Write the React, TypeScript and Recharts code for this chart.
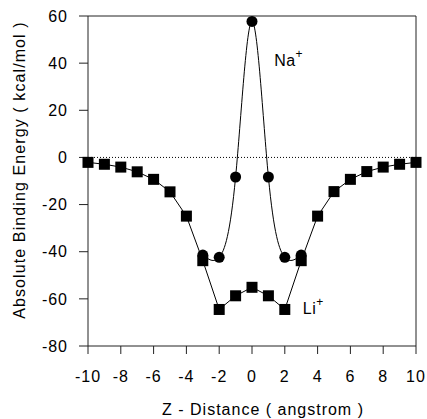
import { LineChart, Line, XAxis, YAxis, ReferenceLine, ReferenceDot, Label } from "recharts"

// Li+ : squares, every angstrom
const liZ = [-10, -9, -8, -7, -6, -5, -4, -3, -2, -1, 0, 1, 2, 3, 4, 5, 6, 7, 8, 9, 10]
const liEnergy = [-2.1, -2.9, -4.1, -6.1, -9.3, -14.6, -24.9, -43.8, -64.5, -58.7, -55.1, -58.7, -64.5, -43.8, -24.9, -14.5, -9.3, -6.0, -4.1, -2.9, -2.1]

// Na+ : circles, near the ring
const naZ = [-3, -2, -1, 0, 1, 2, 3]
const naEnergy = [-41.4, -42.4, -8.3, 57.7, -8.3, -42.4, -41.4]

const xTicks = [-10, -8, -6, -4, -2, 0, 2, 4, 6, 8, 10]
const yTicks = [-80, -60, -40, -20, 0, 20, 40, 60]

const liData = liZ.map((z, i) => ({ z, e: liEnergy[i] }))
const naData = naZ.map((z, i) => ({ z, e: naEnergy[i] }))

const FONT = "'Liberation Sans', Arial, sans-serif"
const tickStyle = { fontSize: 16, fill: "#000", fontFamily: FONT, letterSpacing: 1 }

const Square = (p: any) => {
  if (p.cx == null || p.cy == null) return null
  return <rect key={`sq-${p.index}`} x={p.cx - 5.5} y={p.cy - 5.5} width={11} height={11} fill="#000" />
}

const Ion = (name: string) => (p: any) => (
  <text x={p.cx} y={p.cy} fontSize={16} fontFamily={FONT} fill="#000" letterSpacing={0.5}>
    {name}
    <tspan dy={-8} fontSize={12}>+</tspan>
  </text>
)

export default function App() {
  return (
    <div style={{ position: "absolute", left: 0, top: 0, background: "#fff" }}>
      <LineChart width={427} height={419} margin={{ top: 16, right: 11, bottom: 23, left: 28 }}>
        <XAxis
          dataKey="z"
          type="number"
          domain={[-10, 10]}
          ticks={xTicks}
          allowDuplicatedCategory={false}
          tick={tickStyle}
          tickSize={8}
          tickMargin={17}
          height={50}
          stroke="#222"
        >
          <Label
            content={() => (
              <text x={263} y={415} textAnchor="middle" fontSize={16} fontFamily={FONT} fill="#000" letterSpacing={1}>
                Z - Distance ( angstrom )
              </text>
            )}
          />
        </XAxis>
        <YAxis
          type="number"
          domain={[-80, 60]}
          ticks={yTicks}
          tick={tickStyle}
          tickSize={9}
          tickMargin={11}
          width={60}
          stroke="#222"
        >
          <Label
            content={() => (
              <text x={25} y={170} transform="rotate(-90 25 170)" textAnchor="middle" fontSize={16} fontFamily={FONT} fill="#000" letterSpacing={1.1}>
                Absolute Binding Energy ( kcal/mol )
              </text>
            )}
          />
        </YAxis>
        <ReferenceLine y={60} stroke="#222" />
        <ReferenceLine x={10} stroke="#222" />
        <ReferenceLine y={0} stroke="#000" strokeDasharray="1 2" />
        <Line
          data={liData}
          dataKey="e"
          type="linear"
          stroke="#000"
          strokeWidth={1}
          dot={Square}
          isAnimationActive={false}
        />
        <Line
          data={naData}
          dataKey="e"
          type="natural"
          stroke="#000"
          strokeWidth={1}
          dot={{ r: 5.5, fill: "#000", stroke: "none" }}
          isAnimationActive={false}
        />
        <ReferenceDot x={1.35} y={38.8} shape={Ion("Na")} />
        <ReferenceDot x={3.1} y={-66.4} shape={Ion("Li")} />
      </LineChart>
    </div>
  )
}
